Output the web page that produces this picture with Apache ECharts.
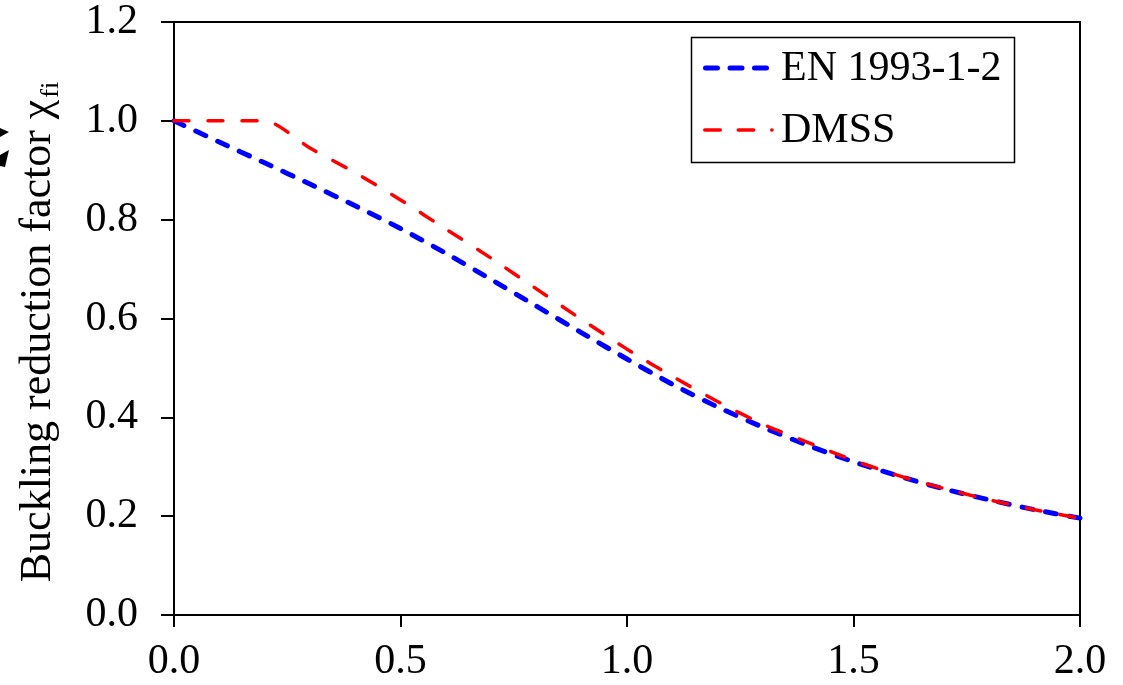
<!DOCTYPE html>
<html>
<head>
<meta charset="utf-8">
<script src="https://cdn.jsdelivr.net/npm/echarts@6/dist/echarts.min.js"></script>
<style>
html,body{margin:0;padding:0;background:#fff;}
#c{width:1123px;height:685px;}
</style>
</head>
<body>
<div id="c"></div>
<script>
// Relative slenderness values (x)
var slenderness = [0.0,0.1,0.2,0.3,0.4,0.5,0.6,0.7,0.8,0.9,1.0,1.1,1.2,1.3,1.4,1.5,1.6,1.7,1.8,1.9,2.0];
// EN 1993-1-2 buckling reduction factor
var enValues = [1.000,0.957,0.915,0.872,0.828,0.782,0.732,0.679,0.625,0.571,0.518,0.467,0.421,0.380,0.343,0.310,0.281,0.255,0.233,0.213,0.196];
// DMSS buckling reduction factor
var dmssValues = [1.000,1.000,1.000,0.945,0.895,0.840,0.781,0.722,0.660,0.598,0.538,0.483,0.432,0.386,0.349,0.313,0.282,0.256,0.233,0.213,0.196];
var seriesNames = ['EN 1993-1-2','DMSS'];
var yAxisTitle = 'Buckling reduction factor χ';
var yAxisTitleSub = 'fi';

function pairs(xs, ys){ return xs.map(function(x,i){ return [x, ys[i]]; }); }

var FONT = '"Liberation Serif", "Times New Roman", serif';
var BLUE = '#0000ff', RED = '#ff0000';
var chart = echarts.init(document.getElementById('c'), null, {renderer:'canvas'});
chart.setOption({
  animation:false,
  backgroundColor:'#fff',
  grid:{left:174,right:43,top:22,bottom:70,show:true,borderColor:'#000',borderWidth:2,backgroundColor:'transparent'},
  xAxis:{
    type:'value',min:0,max:2,interval:0.5,
    axisLine:{show:true,lineStyle:{color:'#000',width:2}},
    axisTick:{show:true,inside:false,length:12,lineStyle:{color:'#000',width:2}},
    axisLabel:{color:'#000',fontFamily:FONT,fontSize:42,margin:26,formatter:function(v){return v.toFixed(1);}},
    splitLine:{show:false}
  },
  yAxis:{
    type:'value',min:0,max:1.2,interval:0.2,
    axisLine:{show:true,lineStyle:{color:'#000',width:2}},
    axisTick:{show:true,inside:false,length:13,lineStyle:{color:'#000',width:2}},
    axisLabel:{color:'#000',fontFamily:FONT,fontSize:42,margin:36,formatter:function(v){return v.toFixed(1);}},
    splitLine:{show:false}
  },
  legend:{show:false},
  graphic:[
    {type:'text',x:38,y:332,rotation:Math.PI/2,
     style:{text:'{a|'+yAxisTitle+'}{b|'+yAxisTitleSub+'}',align:'center',verticalAlign:'middle',
       rich:{a:{fontFamily:FONT,fontSize:44,fill:'#000',verticalAlign:'bottom'},
             b:{fontFamily:FONT,fontSize:26,fill:'#000',verticalAlign:'bottom',padding:[0,0,-4,2]}}}},
    {type:'polygon',shape:{points:[[0,128],[9,132],[0,137]]},style:{fill:'#000'}},
    {type:'polygon',shape:{points:[[0,155],[9,150],[5,167],[0,166]]},style:{fill:'#000'}},
    // legend
    {type:'rect',z:10,shape:{x:691.5,y:37.5,width:323,height:125},style:{fill:'#fff',stroke:'#000',lineWidth:1.5}},
    {type:'line',z:11,shape:{x1:705.5,y1:68,x2:767,y2:68},style:{stroke:BLUE,lineWidth:5,lineDash:[12,12.5],lineCap:'round'}},
    {type:'text',z:11,x:781,y:69,style:{text:seriesNames[0],fontFamily:FONT,fontSize:42,fill:'#000',verticalAlign:'middle'}},
    {type:'line',z:11,shape:{x1:704.75,y1:130,x2:772,y2:130},style:{stroke:RED,lineWidth:3.5,lineDash:[15.5,18],lineCap:'round'}},
    {type:'text',z:11,x:781,y:131,style:{text:seriesNames[1],fontFamily:FONT,fontSize:42,fill:'#000',verticalAlign:'middle'}}
  ],
  series:[
    {name:seriesNames[0],type:'line',data:pairs(slenderness,enValues),showSymbol:false,symbol:'none',
     smooth:0.25,
     lineStyle:{color:BLUE,width:5,type:[11,13],cap:'round'},itemStyle:{color:BLUE},z:2},
    {name:seriesNames[1],type:'line',data:pairs(slenderness,dmssValues),showSymbol:false,symbol:'none',
     smooth:0.25,
     lineStyle:{color:RED,width:3.5,type:[15,19],cap:'round'},itemStyle:{color:RED},z:3}
  ]
});
</script>
</body>
</html>
